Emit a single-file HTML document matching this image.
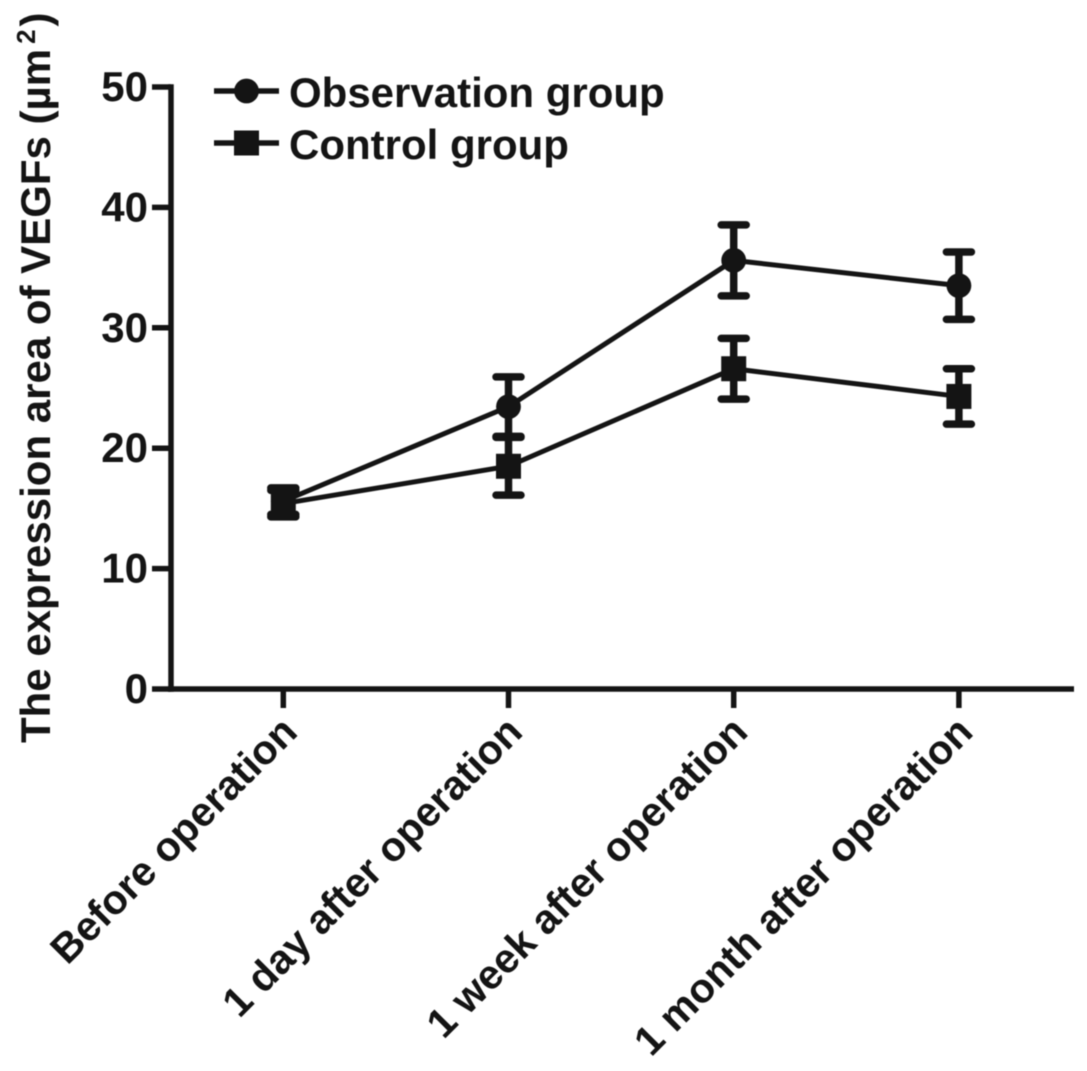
<!DOCTYPE html>
<html>
<head>
<meta charset="utf-8">
<style>
html,body{margin:0;padding:0;background:#fff;}
svg{display:block;filter:blur(0.6px);}
text{font-family:"Liberation Sans",sans-serif;font-weight:bold;fill:#141414;}
</style>
</head>
<body>
<svg id="chart" width="1087" height="1071" viewBox="0 0 1087 1071" xmlns="http://www.w3.org/2000/svg">
<g id="axes"></g>
<g id="series"></g>
<g id="legend"></g>
<text transform="translate(50,743) rotate(-90)" font-size="42">The expression area of VEGFs (µm<tspan font-size="26" dx="5" dy="-15">2</tspan><tspan dx="3" dy="15">)</tspan></text>
</svg>
<script>
const categories = ["Before operation","1 day after operation","1 week after operation","1 month after operation"];
const yTicks = [0,10,20,30,40,50];
const observationMeans = [15.6,23.45,35.6,33.5];
const observationErrors = [1.1,2.47,2.95,2.8];
const controlMeans = [15.4,18.5,26.6,24.3];
const controlErrors = [1.1,2.4,2.52,2.3];
const seriesNames = ["Observation group","Control group"];

const NS = "http://www.w3.org/2000/svg";
const ink = "#141414";
const yScale = v => 689 - v * 12.04;
const xScale = i => 283.3 + i * 225.2;

function make(parent, tag, attrs, text) {
  const el = document.createElementNS(NS, tag);
  for (const k in attrs) el.setAttribute(k, attrs[k]);
  if (text !== undefined) el.textContent = text;
  parent.appendChild(el);
  return el;
}

const axes = document.getElementById("axes");
const yAxis = make(axes, "line", {x1:171, x2:171, y1:yScale(50)-2.75, y2:yScale(0)+2.75, stroke:ink, "stroke-width":5.5});


const xAxis = make(axes, "line", {x1:168, x2:1074, y1:yScale(0), y2:yScale(0), stroke:ink, "stroke-width":5.5});



yTicks.forEach(t => {
  const tick = make(axes, "line", {x1:152, x2:171, y1:yScale(t), y2:yScale(t), stroke:ink, "stroke-width":5.5});
  
  
  const label = make(axes, "text", {x:148, y:yScale(t)+14, "text-anchor":"end", "font-size":42}, String(t));
  
  
});

categories.forEach((c, i) => {
  const x = xScale(i);
  const tick = make(axes, "line", {x1:x, x2:x, y1:yScale(0), y2:yScale(0)+19, stroke:ink, "stroke-width":5.5});
  
  
  const label = make(axes, "text", {
    transform:`translate(${x+16},${yScale(0)+45}) rotate(-45)`,
    "text-anchor":"end", "font-size":41
  }, c);
  
  
});

function drawMarker(parent, kind, x, y) {
  if (kind === "circle") {
    return make(parent, "circle", {cx:x, cy:y, r:12.4, fill:ink});
  }
  return make(parent, "rect", {x:x-12.5, y:y-12.5, width:25, height:25, fill:ink});
}

function drawSeries(means, errors, kind, name) {
  const g = make(document.getElementById("series"), "g", {});
  
  
  const pts = means.map((m, i) => `${xScale(i)},${yScale(m)}`).join(" ");
  const line = make(g, "polyline", {points:pts, fill:"none", stroke:ink, "stroke-width":5});
  
  
  means.forEach((m, i) => {
    const x = xScale(i);
    const top = yScale(m + errors[i]);
    const bot = yScale(m - errors[i]);
    const stem = make(g, "line", {x1:x, x2:x, y1:top, y2:bot, stroke:ink, "stroke-width":7.5});
    
    
    const caps = make(g, "path", {
      d:`M${x-12.5},${top}H${x+12.5}M${x-12.5},${bot}H${x+12.5}`,
      fill:"none", stroke:ink, "stroke-width":7.5, "stroke-linecap":"round"
    });
    
    
    const marker = drawMarker(g, kind, x, yScale(m));
    
    
  });
}

drawSeries(observationMeans, observationErrors, "circle", "observation-series");
drawSeries(controlMeans, controlErrors, "square", "control-series");

const legend = document.getElementById("legend");
seriesNames.forEach((n, i) => {
  const y = 91 + i * 52;
  const line = make(legend, "line", {x1:214, x2:279, y1:y, y2:y, stroke:ink, "stroke-width":5.5});
  
  
  const marker = drawMarker(legend, i === 0 ? "circle" : "square", 246.5, y);
  
  
  const label = make(legend, "text", {x:289, y:y+16, "font-size":42}, n);
  
  
});
</script>
</body>
</html>
